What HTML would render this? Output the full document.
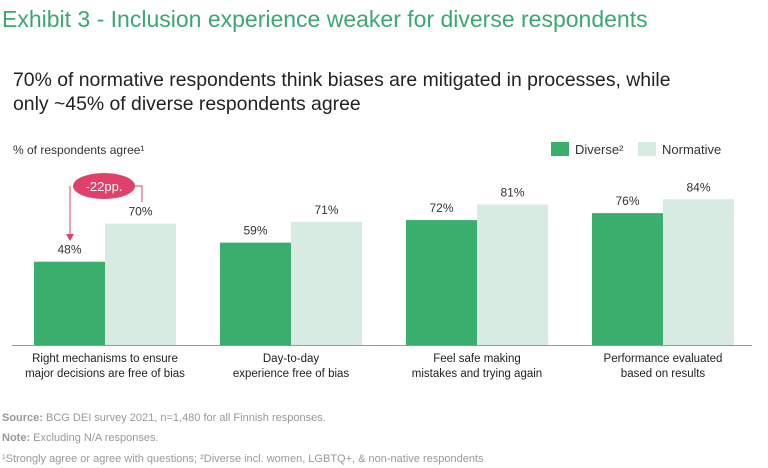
<!DOCTYPE html>
<html><head><meta charset="utf-8"><style>
body{margin:0;background:#fff;width:768px;height:468px;overflow:hidden;font-family:"Liberation Sans",sans-serif}
svg{display:block}
</style></head><body>
<svg width="768" height="468">
<text x="2" y="27" font-size="23" fill="#3aa870">Exhibit 3 - Inclusion experience weaker for diverse respondents</text>
<text x="13" y="86" font-size="19.4" fill="#222">70% of normative respondents think biases are mitigated in processes, while</text>
<text x="13" y="110" font-size="19.4" fill="#222">only ~45% of diverse respondents agree</text>
<text x="13" y="154" font-size="12" fill="#333">% of respondents agree¹</text>
<rect x="551" y="142" width="18" height="14" fill="#3aaf6d"/>
<text x="575" y="154" font-size="13" fill="#333">Diverse²</text>
<rect x="638" y="142" width="18" height="14" fill="#d7ebe2"/>
<text x="662" y="154" font-size="13" fill="#333">Normative</text>
<g id="bars"></g>
<line x1="12" y1="345.5" x2="752" y2="345.5" stroke="#999" stroke-width="1"/>
<g>
<path d="M70 186 V236" stroke="#e0406a" fill="none"/>
<path d="M66 234 L70 241 L74 234 Z" fill="#e0406a"/>
<path d="M130 186 H142 V202" stroke="#e0406a" fill="none"/>
<ellipse cx="104" cy="186" rx="31" ry="13" fill="#e0406a"/>
<text x="104" y="191" font-size="13" fill="#fff" text-anchor="middle">-22pp.</text>
</g>
<text x="2" y="421" font-size="11" fill="#999"><tspan font-weight="bold">Source:</tspan> BCG DEI survey 2021, n=1,480 for all Finnish responses.</text>
<text x="2" y="441" font-size="11" fill="#999"><tspan font-weight="bold">Note:</tspan> Excluding N/A responses.</text>
<text x="2" y="462" font-size="11" fill="#999">¹Strongly agree or agree with questions; ²Diverse incl. women, LGBTQ+, &amp; non-native respondents</text>
</svg>
<script>
const categories=[["Right mechanisms to ensure","major decisions are free of bias"],["Day-to-day","experience free of bias"],["Feel safe making","mistakes and trying again"],["Performance evaluated","based on results"]];
const diverse=[48,59,72,76];
const normative=[70,71,81,84];
const NS="http://www.w3.org/2000/svg";
const g=document.getElementById('bars');
const base=345, scale=1.735, start=34, step=186, bw=71;
function y(v){return base-v*scale;}
function mk(t,a){const e=document.createElementNS(NS,t);for(const k in a)e.setAttribute(k,a[k]);g.appendChild(e);return e;}
categories.forEach((c,i)=>{
  const x0=start+i*step;
  [[diverse[i],"#3aaf6d",0,"diverse"],[normative[i],"#d7ebe2",bw,"normative"]].forEach(([v,col,off,s])=>{
    const r=mk('rect',{x:x0+off,y:y(v),width:bw,height:v*scale,fill:col});
    
    
    const t=mk('text',{x:x0+off+bw/2,y:y(v)-8,'font-size':12,fill:'#333','text-anchor':'middle'});
    t.textContent=v+'%';
    
    
  });
  c.forEach((ln,j)=>{
    const t=mk('text',{x:x0+bw,y:362+j*15,'font-size':11.5,fill:'#222','text-anchor':'middle'});
    t.textContent=ln;
    
    
  });
});
</script>
</body></html>
